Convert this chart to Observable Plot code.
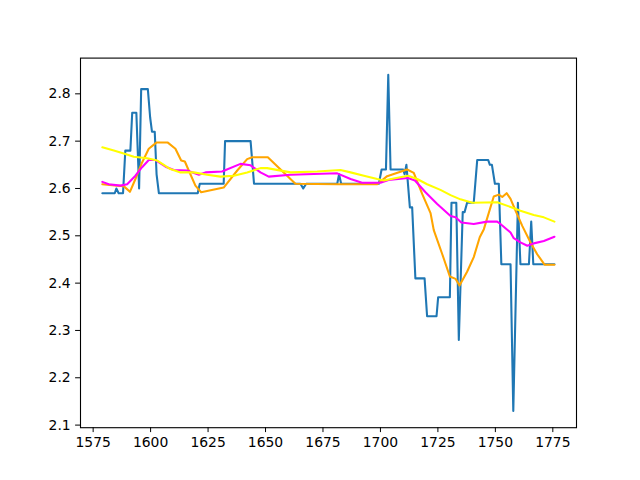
<!DOCTYPE html>
<html><head><meta charset="utf-8">
<script src="https://cdn.jsdelivr.net/npm/d3@7"></script>
<script src="https://cdn.jsdelivr.net/npm/@observablehq/plot@0.6"></script>
<style>body{margin:0;background:#fff}</style>
</head><body><div id="chart"></div>
<script>
const xTicks = [1575, 1600, 1625, 1650, 1675, 1700, 1725, 1750, 1775];
const yTicks = [2.1, 2.2, 2.3, 2.4, 2.5, 2.6, 2.7, 2.8];

const blueYears = [1579, 1584.4, 1585.1, 1586.1, 1588, 1589, 1591.2, 1592, 1593.8, 1595, 1595.9, 1598.8, 1599.8, 1600.6, 1601.8, 1602.6, 1603.6, 1620.5, 1621.4, 1631.8, 1632.4, 1643.5, 1645, 1665.2, 1666.4, 1667.7, 1681.2, 1682, 1682.9, 1699.3, 1700.5, 1702.4, 1703.4, 1704.4, 1709.9, 1710.5, 1711.3, 1712.8, 1713.8, 1715.2, 1719.2, 1720.3, 1724.4, 1725.1, 1730.2, 1730.9, 1733, 1734.1, 1735.8, 1736.6, 1737.7, 1740.6, 1742.1, 1746.9, 1747.6, 1748.5, 1749.8, 1751.5, 1752.6, 1756.6, 1757.8, 1759.8, 1760.9, 1764.6, 1765.6, 1766.5, 1775.7];
const blueValues = [2.59, 2.59, 2.60, 2.59, 2.59, 2.68, 2.68, 2.76, 2.76, 2.60, 2.81, 2.81, 2.75, 2.72, 2.72, 2.63, 2.59, 2.59, 2.61, 2.61, 2.70, 2.70, 2.61, 2.61, 2.60, 2.61, 2.61, 2.63, 2.61, 2.61, 2.64, 2.64, 2.84, 2.64, 2.64, 2.63, 2.65, 2.56, 2.56, 2.41, 2.41, 2.33, 2.33, 2.37, 2.37, 2.57, 2.57, 2.28, 2.55, 2.55, 2.57, 2.57, 2.66, 2.66, 2.65, 2.65, 2.61, 2.61, 2.44, 2.44, 2.13, 2.57, 2.44, 2.44, 2.53, 2.44, 2.44];

const orangeYears = [1579, 1585.4, 1588.3, 1591, 1593.4, 1596.3, 1599.2, 1602.5, 1607.5, 1610.8, 1613.3, 1614.9, 1616.6, 1619.5, 1622, 1631.8, 1637.7, 1642, 1644.2, 1651, 1663, 1681.2, 1698.6, 1702.9, 1711.6, 1714.5, 1718.2, 1721.8, 1723.2, 1726.9, 1730.2, 1732.7, 1734.4, 1737.7, 1740.6, 1743.2, 1745, 1749.3, 1751.5, 1753, 1754.9, 1756.6, 1758.8, 1761.7, 1765.3, 1768.2, 1771.4, 1775.7];
const orangeValues = [2.609, 2.606, 2.605, 2.593, 2.620, 2.655, 2.684, 2.697, 2.697, 2.684, 2.659, 2.657, 2.638, 2.606, 2.592, 2.602, 2.638, 2.662, 2.666, 2.666, 2.610, 2.609, 2.609, 2.626, 2.640, 2.633, 2.588, 2.548, 2.512, 2.461, 2.414, 2.409, 2.395, 2.424, 2.455, 2.497, 2.514, 2.583, 2.587, 2.582, 2.590, 2.578, 2.553, 2.521, 2.486, 2.461, 2.439, 2.439];

const magentaYears = [1579, 1581.8, 1586.9, 1589.8, 1593.4, 1596.3, 1599.2, 1602.1, 1606.5, 1610.1, 1615.9, 1621, 1623.9, 1631.1, 1639.1, 1643.5, 1647.8, 1651.4, 1660.9, 1681.2, 1687, 1692, 1700, 1703.5, 1712, 1715, 1719.6, 1724.7, 1730.5, 1732.7, 1735.2, 1740.6, 1746.4, 1750.8, 1752.2, 1756.6, 1758, 1760.9, 1763.9, 1766.7, 1771.1, 1775.7];
const magentaValues = [2.614, 2.609, 2.606, 2.609, 2.627, 2.645, 2.660, 2.660, 2.646, 2.639, 2.638, 2.629, 2.634, 2.636, 2.652, 2.649, 2.634, 2.625, 2.629, 2.632, 2.620, 2.612, 2.612, 2.618, 2.622, 2.617, 2.592, 2.567, 2.542, 2.539, 2.528, 2.525, 2.530, 2.530, 2.525, 2.507, 2.495, 2.486, 2.479, 2.484, 2.489, 2.498];

const yellowYears = [1579, 1584, 1589, 1592.7, 1598.5, 1602.9, 1608.6, 1613, 1618.8, 1624.6, 1630.4, 1636.2, 1642, 1647.8, 1650.7, 1660.9, 1672.5, 1682.6, 1687, 1692.8, 1698.6, 1701.5, 1705.8, 1712, 1716, 1720.3, 1726.1, 1730.5, 1734.8, 1740, 1750.8, 1756.6, 1760.9, 1766.7, 1771.1, 1775.7];
const yellowValues = [2.687, 2.680, 2.673, 2.667, 2.664, 2.659, 2.641, 2.634, 2.634, 2.629, 2.625, 2.627, 2.634, 2.643, 2.643, 2.634, 2.636, 2.639, 2.634, 2.627, 2.620, 2.617, 2.621, 2.627, 2.620, 2.609, 2.597, 2.586, 2.577, 2.570, 2.571, 2.561, 2.553, 2.544, 2.539, 2.530];

const toRows = (xs, ys) => xs.map((x, i) => ({x, y: ys[i]}));
const lw = 2.08;

const chart = Plot.plot({
  width: 640, height: 480,
  marginLeft: 80, marginRight: 64, marginTop: 57.6, marginBottom: 52.8,
  style: {fontFamily: "DejaVu Sans", fontSize: "13.9px", color: "black", background: "white", overflow: "visible"},
  x: {domain: [1569.5, 1785.3]},
  y: {domain: [2.0945, 2.8755]},
  marks: [
    Plot.line(toRows(blueYears, blueValues), {x: "x", y: "y", stroke: "#1f77b4", strokeWidth: lw}),
    Plot.line(toRows(orangeYears, orangeValues), {x: "x", y: "y", stroke: "orange", strokeWidth: lw}),
    Plot.line(toRows(magentaYears, magentaValues), {x: "x", y: "y", stroke: "magenta", strokeWidth: lw}),
    Plot.line(toRows(yellowYears, yellowValues), {x: "x", y: "y", stroke: "yellow", strokeWidth: lw}),
    Plot.axisX({ticks: xTicks, tickSize: 4.9, tickPadding: 4.9, tickFormat: d => String(d), label: null, fontSize: 13.9}),
    Plot.axisY({ticks: yTicks, tickSize: 4.9, tickPadding: 4.9, tickFormat: d3.format(".1f"), label: null, fontSize: 13.9}),
    Plot.frame({stroke: "black", strokeWidth: 1.1})
  ]
});
document.getElementById("chart").appendChild(chart);
</script>
</body></html>
